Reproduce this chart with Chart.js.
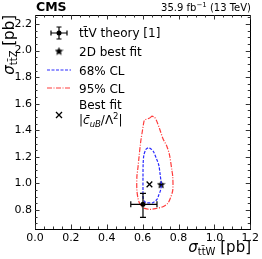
<!DOCTYPE html>
<html>
<head>
<meta charset="utf-8">
<script src="https://cdn.jsdelivr.net/npm/chart.js@4.4.0/dist/chart.umd.min.js"></script>
<style>
  html, body { margin: 0; padding: 0; background: #fff; }
  #wrap { width: 262px; height: 259px; position: relative; }
</style>
</head>
<body>
<div id="wrap"><canvas id="chart" width="262" height="259"></canvas></div>
<script>
// Axis ticks
const xTicks = [0.0, 0.2, 0.4, 0.6, 0.8, 1.0, 1.2];
const yTicks = [0.8, 1.0, 1.2, 1.4, 1.6, 1.8, 2.0, 2.2];

// 68% CL contour (sigma_ttW, sigma_ttZ)
const cl68X = [0.630, 0.618, 0.607, 0.603, 0.602, 0.602, 0.603, 0.610, 0.620, 0.640, 0.657, 0.680, 0.690, 0.700, 0.704, 0.698, 0.690, 0.676, 0.660, 0.645, 0.630];
const cl68Y = [1.268, 1.255, 1.213, 1.150, 1.050, 0.950, 0.890, 0.865, 0.855, 0.853, 0.855, 0.880, 0.913, 0.950, 0.988, 1.063, 1.138, 1.190, 1.240, 1.262, 1.268];

// 95% CL contour
const cl95X = [0.652, 0.636, 0.611, 0.604, 0.598, 0.592, 0.587, 0.580, 0.574, 0.568, 0.568, 0.574, 0.583, 0.595, 0.611, 0.639, 0.670, 0.713, 0.740, 0.755, 0.768, 0.768, 0.763, 0.750, 0.735, 0.713, 0.695, 0.676, 0.665, 0.652];
const cl95Y = [1.507, 1.490, 1.477, 1.440, 1.389, 1.340, 1.289, 1.200, 1.120, 1.050, 0.950, 0.890, 0.850, 0.825, 0.812, 0.805, 0.810, 0.825, 0.850, 0.890, 0.950, 1.050, 1.100, 1.213, 1.280, 1.339, 1.410, 1.477, 1.500, 1.507];

// Points
const bestFit2D = [0.703, 0.993];
const bestFitCuB = [0.638, 0.993];
const theory = [0.602, 0.843];
const theoryXErr = [0.068, 0.078];   // minus, plus
const theoryYErr = [0.098, 0.082];

const FONT = "'DejaVu Sans', sans-serif";

// filled star marker
function makeStar(size) {
    const c = document.createElement('canvas');
    c.width = size; c.height = size;
    const g = c.getContext('2d');
    const cx = size / 2, cy = size / 2 + 0.4, ro = size / 2, ri = ro * 0.45;
    g.beginPath();
    for (let i = 0; i < 10; i++) {
        const r = i % 2 === 0 ? ro : ri;
        const a = -Math.PI / 2 + i * Math.PI / 5;
        const px = cx + r * Math.cos(a), py = cy + r * Math.sin(a);
        if (i === 0) g.moveTo(px, py); else g.lineTo(px, py);
    }
    g.closePath();
    g.fillStyle = '#000';
    g.fill();
    return c;
}
const starImg = makeStar(9);

// draw a sequence of text runs (for subscripts / superscripts)
function drawRuns(ctx, x, y, runs, align) {
    let total = 0;
    runs.forEach(r => {
        ctx.font = (r.style || '') + ' ' + r.size + 'px ' + FONT;
        r.w = ctx.measureText(r.t).width;
        total += r.w;
    });
    let cx = align === 'right' ? x - total : x;
    ctx.textAlign = 'left';
    ctx.textBaseline = 'alphabetic';
    runs.forEach(r => {
        ctx.font = (r.style || '') + ' ' + r.size + 'px ' + FONT;
        ctx.fillText(r.t, cx, y + (r.dy || 0));
        cx += r.w;
    });
}

function errorBar(ctx, cx, cy, left, right, top, bottom, cap) {
    ctx.beginPath();
    ctx.moveTo(left, cy); ctx.lineTo(right, cy);
    ctx.moveTo(cx, top); ctx.lineTo(cx, bottom);
    ctx.moveTo(left, cy - cap); ctx.lineTo(left, cy + cap);
    ctx.moveTo(right, cy - cap); ctx.lineTo(right, cy + cap);
    ctx.moveTo(cx - cap, top); ctx.lineTo(cx + cap, top);
    ctx.moveTo(cx - cap, bottom); ctx.lineTo(cx + cap, bottom);
    ctx.stroke();
    ctx.beginPath();
    ctx.arc(cx, cy, 2.5, 0, Math.PI * 2);
    ctx.fill();
}

const decorPlugin = {
    id: 'decor',
    afterDatasetsDraw(chart) {
        const ctx = chart.ctx;
        const xs = chart.scales.x, ys = chart.scales.y;
        const a = chart.chartArea;
        ctx.save();
        ctx.strokeStyle = '#000';
        ctx.fillStyle = '#000';
        ctx.lineWidth = 1.2;

        // theory point with error bars
        const px = xs.getPixelForValue(theory[0]), py = ys.getPixelForValue(theory[1]);
        errorBar(ctx, px, py,
            xs.getPixelForValue(theory[0] - theoryXErr[0]), xs.getPixelForValue(theory[0] + theoryXErr[1]),
            ys.getPixelForValue(theory[1] + theoryYErr[1]), ys.getPixelForValue(theory[1] - theoryYErr[0]), 3);

        // frame
        ctx.lineWidth = 1;
        ctx.strokeRect(Math.round(a.left) + 0.5, Math.round(a.top) + 0.5, Math.round(a.right - a.left), Math.round(a.bottom - a.top));

        // inward ticks
        ctx.strokeStyle = '#333';
        ctx.beginPath();
        for (let i = 0; i <= 24; i++) {
            const v = i * 0.05;
            const len = i % 4 === 0 ? 4.5 : 2.5;
            const x = Math.round(xs.getPixelForValue(v)) + 0.5;
            ctx.moveTo(x, a.bottom); ctx.lineTo(x, a.bottom - len);
            ctx.moveTo(x, a.top); ctx.lineTo(x, a.top + len);
        }
        for (let i = 14; i <= 45; i++) {
            const v = i * 0.05;
            if (v < ys.min || v > ys.max) continue;
            const len = i % 4 === 0 ? 4.5 : 2.5;
            const y = Math.round(ys.getPixelForValue(v)) + 0.5;
            ctx.moveTo(a.left, y); ctx.lineTo(a.left + len, y);
            ctx.moveTo(a.right, y); ctx.lineTo(a.right - len, y);
        }
        ctx.stroke();

        // header
        ctx.fillStyle = '#000';
        drawRuns(ctx, 36, 11, [{ t: 'CMS', size: 12.5, style: 'bold' }], 'left');
        drawRuns(ctx, 251, 11, [
            { t: '35.9 fb', size: 10 },
            { t: '\u22121', size: 7, dy: -4 },
            { t: ' (13 TeV)', size: 10 }
        ], 'right');

        // axis titles
        drawRuns(ctx, 251, 252, [
            { t: '\u03c3', size: 15, style: 'italic' },
            { t: 'tt\u0304W', size: 10, dy: 3 },
            { t: ' [pb]', size: 15 }
        ], 'right');
        ctx.save();
        ctx.translate(13.5, 15);
        ctx.rotate(-Math.PI / 2);
        drawRuns(ctx, 0, 0, [
            { t: '\u03c3', size: 15, style: 'italic' },
            { t: 'tt\u0304Z', size: 10, dy: 3 },
            { t: ' [pb]', size: 15 }
        ], 'right');
        ctx.restore();

        // legend
        const sx = 59, tx = 79;
        ctx.strokeStyle = '#000';
        ctx.lineWidth = 1.2;
        errorBar(ctx, sx, 33, 51, 67, 27, 39, 2.5);
        drawRuns(ctx, tx, 37, [{ t: 'tt\u0304V theory [1]', size: 12 }], 'left');

        ctx.drawImage(starImg, sx - 4.5, 51 - 4.5);
        drawRuns(ctx, tx, 55.5, [{ t: '2D best fit', size: 12 }], 'left');

        ctx.lineWidth = 1.2;
        ctx.strokeStyle = '#2a2aff';
        ctx.setLineDash([3, 1.5]);
        ctx.beginPath(); ctx.moveTo(47, 70); ctx.lineTo(71, 70); ctx.stroke();
        drawRuns(ctx, tx, 74.5, [{ t: '68% CL', size: 12 }], 'left');

        ctx.strokeStyle = '#ff3c3c';
        ctx.setLineDash([5, 1.5, 1, 1.5]);
        ctx.beginPath(); ctx.moveTo(47, 88); ctx.lineTo(71, 88); ctx.stroke();
        ctx.setLineDash([]);
        drawRuns(ctx, tx, 92.5, [{ t: '95% CL', size: 12 }], 'left');

        ctx.strokeStyle = '#000';
        ctx.lineWidth = 1.3;
        ctx.beginPath();
        ctx.moveTo(sx - 3, 112); ctx.lineTo(sx + 3, 118);
        ctx.moveTo(sx + 3, 112); ctx.lineTo(sx - 3, 118);
        ctx.stroke();
        drawRuns(ctx, tx, 109, [{ t: 'Best fit', size: 12 }], 'left');
        drawRuns(ctx, tx, 124, [
            { t: '|', size: 12 },
            { t: 'c\u0304', size: 12, style: 'italic' },
            { t: 'uB', size: 8.5, style: 'italic', dy: 2.5 },
            { t: '/\u039b', size: 12 },
            { t: '2', size: 8.5, dy: -5 },
            { t: '|', size: 12 }
        ], 'left');
        ctx.restore();
    }
};

const toXY = (xs, ys) => xs.map((x, i) => ({ x: x, y: ys[i] }));

new Chart(document.getElementById('chart'), {
    type: 'scatter',
    data: {
        datasets: [
            {
                label: '95% CL',
                data: toXY(cl95X, cl95Y),
                showLine: true,
                borderColor: '#ff3c3c',
                borderWidth: 1.2,
                borderDash: [5, 1.5, 1, 1.5],
                pointRadius: 0,
                tension: 0.3,
                fill: false
            },
            {
                label: '68% CL',
                data: toXY(cl68X, cl68Y),
                showLine: true,
                borderColor: '#2a2aff',
                borderWidth: 1.2,
                borderDash: [3, 1.5],
                pointRadius: 0,
                tension: 0.3,
                fill: false
            },
            {
                label: 'Best fit cuB',
                data: [{ x: bestFitCuB[0], y: bestFitCuB[1] }],
                pointStyle: 'crossRot',
                pointRadius: 4,
                borderColor: '#000',
                borderWidth: 1.3
            },
            {
                label: '2D best fit',
                data: [{ x: bestFit2D[0], y: bestFit2D[1] }],
                pointStyle: starImg,
                pointRadius: 4.5
            }
        ]
    },
    options: {
        responsive: false,
        animation: false,
        layout: { padding: { top: 15, right: 11, left: 0, bottom: 0 } },
        plugins: { legend: { display: false }, tooltip: { enabled: false } },
        scales: {
            x: {
                type: 'linear',
                min: 0, max: 1.2,
                grid: { display: false, drawTicks: false },
                border: { display: false },
                afterBuildTicks: s => { s.ticks = xTicks.map(v => ({ value: v })); },
                afterFit: s => { s.height = 30; },
                ticks: {
                    padding: 3,
                    color: '#000',
                    font: { family: FONT, size: 11 },
                    maxRotation: 0,
                    callback: v => v.toFixed(1)
                }
            },
            y: {
                type: 'linear',
                min: 0.657, max: 2.268,
                grid: { display: false, drawTicks: false },
                border: { display: false },
                afterBuildTicks: s => { s.ticks = yTicks.map(v => ({ value: v })); },
                afterFit: s => { s.width = 35; },
                ticks: {
                    padding: 3,
                    color: '#000',
                    font: { family: FONT, size: 11 },
                    callback: v => v.toFixed(1)
                }
            }
        }
    },
    plugins: [decorPlugin]
});
</script>
</body>
</html>
